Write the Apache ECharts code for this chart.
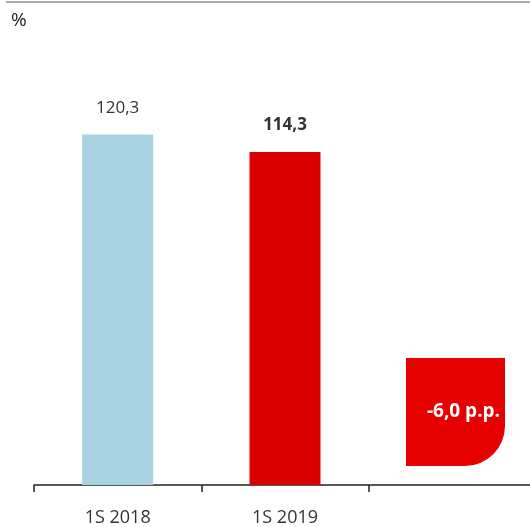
<!DOCTYPE html>
<html><head><meta charset="utf-8">
<script src="https://cdn.jsdelivr.net/npm/echarts@6/dist/echarts.min.js"></script>
<style>html,body{margin:0;padding:0;background:#fff}#c{width:530px;height:527px}</style>
</head><body><div id="c"></div>
<script>
const categories = ['1S 2018', '1S 2019', ''];
const values = [120.3, 114.3, null];
const valueLabels = ['120,3', '114,3', ''];
const deltaLabel = '-6,0 p.p.';
const unitLabel = '%';

const chart = echarts.init(document.getElementById('c'));
const font = '"Open Sans", "Noto Sans", sans-serif';
chart.setOption({
  animation: false,
  grid: { left: 34, right: -6, top: 48, bottom: 42, outerBoundsMode: 'none', containLabel: false },
  xAxis: {
    type: 'category', data: categories,
    axisLine: { lineStyle: { color: '#222', width: 1.5 } },
    axisTick: { show: true, length: 7, lineStyle: { color: '#222', width: 1.5 } },
    axisLabel: { color: '#333', fontSize: 18, fontFamily: font, margin: 24 }
  },
  yAxis: { type: 'value', min: 0, max: 150, show: false, splitLine: { show: false } },
  series: [{
    type: 'bar', barWidth: 71,
    data: values.map((v, i) => ({
      value: v,
      itemStyle: { color: i === 0 ? '#a8d1e1' : '#da0000' },
      label: {
        show: v != null, position: 'top', distance: 18,
        formatter: valueLabels[i], color: '#333', fontSize: 17, fontFamily: font,
        fontWeight: i === 1 ? 'bold' : 'normal'
      }
    }))
  }],
  graphic: [
    { type: 'rect', shape: { x: 6, y: 1, width: 524, height: 2 }, style: { fill: '#aaa' } },
    { type: 'text', left: 11, top: 11, style: { text: unitLabel, fontSize: 19, fill: '#222', fontFamily: font } },
    { type: 'rect', shape: { x: 406, y: 358, width: 99, height: 108, r: [0, 0, 40, 0] }, style: { fill: '#e60000' } },
    { type: 'text', x: 500, y: 412, style: { text: deltaLabel, fontSize: 19, fontWeight: 'bold', fill: '#fff', fontFamily: font, align: 'right', verticalAlign: 'middle' } }
  ]
});
</script></body></html>
